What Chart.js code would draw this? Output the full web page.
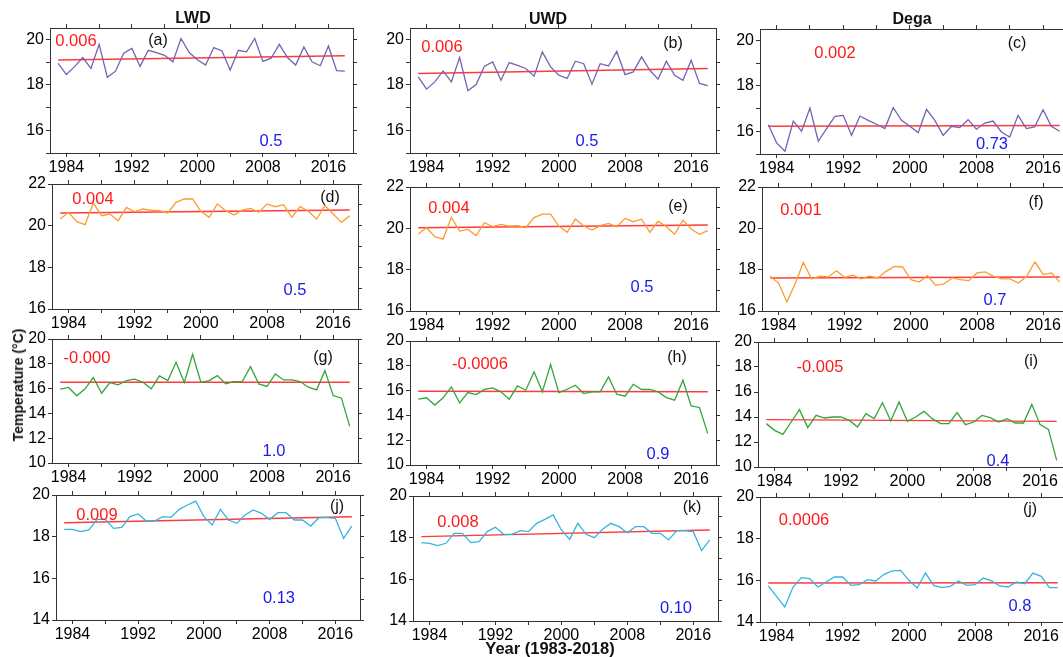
<!DOCTYPE html>
<html>
<head>
<meta charset="utf-8">
<script src="https://cdn.jsdelivr.net/npm/chart.js@4.4.1/dist/chart.umd.min.js"></script>
<style>
  html, body { margin:0; padding:0; background:#fff; width:1063px; height:657px; overflow:hidden; position:relative; }
  canvas { position:absolute; }
  .lab { position:absolute; transform:translate(-50%,-50%); font-family:"Liberation Sans", Arial, sans-serif; white-space:nowrap; line-height:1; }
  .red { color:#ff1a1a; font-size:16.5px; }
  .blue { color:#1a1aee; font-size:16.5px; }
  .let { color:#111; font-size:16px; }
  .hdr { color:#111; font-size:16px; font-weight:bold; }
</style>
</head>
<body>
<script>
// ---------- data ----------
const years = [1983,1984,1985,1986,1987,1988,1989,1990,1991,1992,1993,1994,1995,1996,1997,1998,1999,2000,
               2001,2002,2003,2004,2005,2006,2007,2008,2009,2010,2011,2012,2013,2014,2015,2016,2017,2018];
const xTickLabels = [1984, 1992, 2000, 2008, 2016];
const columnTitles = ["LWD", "UWD", "Dega"];

const aVals = [18.94,18.45,18.8,19.2,18.72,19.78,18.33,18.6,19.39,19.6,18.81,19.52,19.42,19.3,19.01,20.04,19.42,19.1,18.87,19.64,19.49,18.65,19.52,19.45,20.04,19.03,19.17,19.78,19.2,18.87,19.67,19.01,18.84,19.71,18.62,18.6];
const bVals = [18.35,17.81,18.13,18.61,18.13,19.2,17.74,18.01,18.82,19.01,18.2,18.98,18.86,18.72,18.38,19.45,18.79,18.42,18.28,19.04,18.93,18.03,18.93,18.83,19.47,18.45,18.57,19.23,18.64,18.25,19.04,18.42,18.2,19.08,18.06,17.96];
const cVals = [16.29,15.49,15.12,16.45,16.0,17.02,15.56,16.12,16.66,16.7,15.82,16.67,16.48,16.31,16.12,17.04,16.48,16.22,15.94,16.96,16.48,15.82,16.22,16.16,16.51,16.09,16.36,16.45,15.97,15.75,16.7,16.12,16.19,16.95,16.22,16.0];
const dVals = [20.32,20.64,20.19,20.05,21.09,20.48,20.56,20.24,20.88,20.67,20.8,20.74,20.72,20.61,21.12,21.28,21.28,20.69,20.4,21.04,20.72,20.51,20.75,20.83,20.64,21.04,20.91,21.01,20.4,20.91,20.69,20.32,20.96,20.56,20.16,20.48];
const eVals = [19.73,20.03,19.6,19.48,20.53,19.87,19.95,19.65,20.27,20.08,20.19,20.11,20.13,20.03,20.52,20.69,20.69,20.11,19.81,20.45,20.11,19.92,20.13,20.24,20.08,20.48,20.32,20.44,19.81,20.35,20.08,19.71,20.4,19.97,19.71,19.89];
const fVals = [17.68,17.35,16.44,17.31,18.35,17.55,17.68,17.65,17.95,17.63,17.73,17.56,17.69,17.6,17.92,18.16,18.13,17.52,17.4,17.71,17.24,17.31,17.6,17.52,17.47,17.84,17.89,17.68,17.55,17.55,17.35,17.68,18.37,17.76,17.84,17.4];
const gVals = [15.95,16.09,15.42,15.98,16.89,15.63,16.49,16.3,16.65,16.76,16.51,15.98,17.02,16.65,18.12,16.49,18.77,16.51,16.65,17.05,16.38,16.57,16.57,17.77,16.38,16.17,17.18,16.7,16.7,16.57,16.11,15.9,17.45,15.44,15.23,12.95];
const hVals = [15.31,15.42,14.83,15.42,16.3,15.01,15.84,15.68,16.09,16.22,15.9,15.31,16.38,16.03,17.51,15.9,18.1,15.84,16.11,16.43,15.76,15.9,15.9,17.1,15.71,15.55,16.51,16.09,16.09,15.9,15.44,15.23,16.84,14.77,14.64,12.55];
const iVals = [13.47,12.93,12.61,13.6,14.59,13.15,14.13,13.92,14.0,14.0,13.73,13.2,14.27,13.87,15.15,13.68,15.2,13.65,14.0,14.45,13.87,13.47,13.47,14.35,13.39,13.6,14.13,13.95,13.6,13.87,13.52,13.52,15.01,13.39,13.01,10.53];
const jVals = [18.35,18.35,18.24,18.32,18.83,18.83,18.4,18.45,18.96,19.09,18.75,18.75,18.96,18.93,19.31,19.52,19.71,18.96,18.56,19.31,18.8,18.64,19.04,19.28,19.12,18.83,19.15,19.15,18.8,18.8,18.51,18.91,18.91,18.88,17.92,18.51];
const kVals = [17.76,17.73,17.62,17.73,18.21,18.21,17.76,17.81,18.29,18.5,18.16,18.16,18.34,18.29,18.69,18.88,19.09,18.37,17.92,18.69,18.16,18.0,18.4,18.69,18.53,18.24,18.53,18.53,18.21,18.21,17.89,18.34,18.34,18.29,17.38,17.89];
const lVals = [15.73,15.23,14.72,15.68,16.13,16.08,15.68,15.92,16.16,16.16,15.76,15.79,16.03,15.97,16.29,16.45,16.48,16.0,15.63,16.35,15.76,15.65,15.71,15.97,15.76,15.79,16.11,15.97,15.73,15.68,15.92,15.84,16.35,16.19,15.65,15.65];

// trend line values at 1983 and 2018
const trendYears = [1983, 2018];
const aTrend = [19.09, 19.28], bTrend = [18.5, 18.72], cTrend = [16.22, 16.25];
const dTrend = [20.61, 20.75], eTrend = [20.03, 20.16], fTrend = [17.6, 17.65];
const gTrend = [16.51, 16.51], hTrend = [15.95, 15.9], iTrend = [13.79, 13.65];
const jTrend = [18.67, 18.96], kTrend = [18.05, 18.37], lTrend = [15.87, 15.89];

// slope and stat labels
const slopeLabels = ["0.006","0.006","0.002","0.004","0.004","0.001","-0.000","-0.0006","-0.005","0.009","0.008","0.0006"];
const statLabels  = ["0.5","0.5","0.73","0.5","0.5","0.7","1.0","0.9","0.4","0.13","0.10","0.8"];
const panelLetters = ["(a)","(b)","(c)","(d)","(e)","(f)","(g)","(h)","(i)","(j)","(k)","(j)"];

// ---------- layout ----------
const FONT = '"Liberation Sans", Arial, sans-serif';
const rowRanges = [ {min:15, max:20.5, step:1}, {min:16, max:22, step:1}, {min:10, max:20, step:2}, {min:14, max:20, step:1} ];
const rowColors = ["#7862ae", "#ff9a2e", "#35a43a", "#36b4de"];
const values = [aVals,bVals,cVals,dVals,eVals,fVals,gVals,hVals,iVals,jVals,kVals,lVals];
const trends = [aTrend,bTrend,cTrend,dTrend,eTrend,fTrend,gTrend,hTrend,iTrend,jTrend,kTrend,lTrend];
// plot-area boxes [left, top, right, bottom]
const boxes = [
  [50,28,353,153],[410,28,716,153],[760,29,1068,154],
  [52,184,358,309],[410,187,716,311],[762,187,1068,311],
  [52,339,358,463],[410,341,716,465],[758,342,1065,467],
  [56,495,360,620],[413,496,718,621],[760,497,1066,622]
];
// annotation positions: [slope x,y], [letter x,y], [stat x,y]
const notePos = [
  [[76,40],[158,40],[271,140]],
  [[442,46],[673,43],[587,140]],
  [[835,52],[1017,43],[992,143]],
  [[93,198],[330,197],[295,289]],
  [[449,207],[678,206],[642,286]],
  [[801,209],[1036,202],[995,299]],
  [[87,357],[323,357],[274,450]],
  [[480,363],[677,357],[658,453]],
  [[820,366],[1031,361],[998,460]],
  [[97,514],[337,506],[279,597]],
  [[458,521],[692,507],[676,607]],
  [[804,519],[1030,509],[1020,605]]
];

const PADL = 48, PADR = 8, PADT = 12, PADB = 26;
const AX = '#333';

function addLabel(text, cls, x, y) {
  const d = document.createElement('div');
  d.className = 'lab ' + cls;
  d.textContent = text;
  d.style.left = x + 'px';
  d.style.top = y + 'px';
  document.body.appendChild(d);
  return d;
}

for (let p = 0; p < 12; p++) {
  const row = Math.floor(p / 3);
  const rr = rowRanges[row];
  const [L, T, R, B] = boxes[p];
  const cv = document.createElement('canvas');
  const w = (R - L) + PADL + PADR, h = (B - T) + PADT + PADB;
  cv.width = w; cv.height = h;
  cv.style.left = (L - PADL) + 'px';
  cv.style.top = (T - PADT) + 'px';
  cv.style.width = w + 'px'; cv.style.height = h + 'px';
  document.body.appendChild(cv);

  const gridOpt = { drawOnChartArea:false, drawTicks:true, tickLength:4, color:AX, lineWidth:1 };
  const borderOpt = { display:true, color:AX, width:1 };
  new Chart(cv, {
    type: 'line',
    data: {
      datasets: [
        { data: years.map((y,i)=>({x:y, y:values[p][i]})), borderColor: rowColors[row], borderWidth:1.3,
          pointRadius:0, tension:0, fill:false },
        { data: trendYears.map((y,i)=>({x:y, y:trends[p][i]})), borderColor:'#ff3a3a', borderWidth:1.5,
          pointRadius:0, tension:0, fill:false }
      ]
    },
    options: {
      responsive:false, animation:false, devicePixelRatio:1,
      layout:{ padding:0 },
      plugins:{ legend:{display:false}, tooltip:{enabled:false} },
      scales: {
        x: { type:'linear', position:'bottom', min:1982, max:2019,
             afterFit: s => { s.height = PADB; },
             ticks:{ stepSize:4, autoSkip:false, maxRotation:0, includeBounds:false, padding:1,
                     color:'#000', font:{family:FONT, size:16},
                     callback: v => xTickLabels.includes(v) ? String(v) : '' },
             grid: gridOpt, border: borderOpt },
        x2: { type:'linear', position:'top', min:1982, max:2019,
             afterFit: s => { s.height = PADT; },
             ticks:{ display:false, stepSize:4, includeBounds:false },
             grid: gridOpt, border: borderOpt },
        y: { type:'linear', position:'left', min:rr.min, max:rr.max,
             afterFit: s => { s.width = PADL; },
             ticks:{ stepSize:rr.step, includeBounds:false, padding:2, color:'#000', font:{family:FONT, size:16},
                     callback: v => (v % 2 === 0) ? String(v) : '' },
             grid: gridOpt, border: borderOpt },
        y2: { type:'linear', position:'right', min:rr.min, max:rr.max,
             afterFit: s => { s.width = PADR; },
             ticks:{ display:false, stepSize:rr.step, includeBounds:false },
             grid: gridOpt, border: borderOpt }
      }
    }
  });

  const np = notePos[p];
  addLabel(slopeLabels[p], 'red', np[0][0], np[0][1]);
  addLabel(panelLetters[p], 'let', np[1][0], np[1][1]);
  addLabel(statLabels[p], 'blue', np[2][0], np[2][1]);
}

// column headers
addLabel(columnTitles[0], 'hdr', 193, 18);
addLabel(columnTitles[1], 'hdr', 548, 19);
addLabel(columnTitles[2], 'hdr', 912, 19);

// axis titles
const xt = addLabel('Year (1983-2018)', 'hdr', 550, 648);
xt.style.fontSize = '16.5px';
const yt = addLabel('Temperature (°C)', 'hdr', 18, 385);
yt.style.fontSize = '14px';
yt.style.transform = 'translate(-50%,-50%) rotate(-90deg)';
</script>
</body>
</html>
